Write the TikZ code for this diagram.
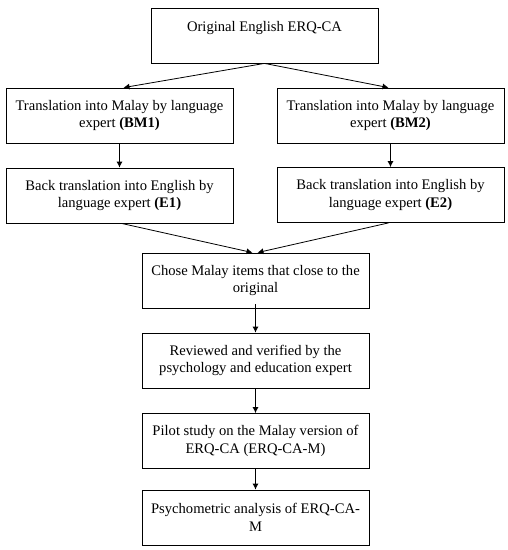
\documentclass[tikz,border=0pt]{standalone}
\usepackage{fontspec}
\setmainfont{Liberation Serif}
\usetikzlibrary{calc}
\usetikzlibrary{arrows.meta}

\begin{document}
\begin{tikzpicture}[x=1pt,y=-1pt,>={Latex[length=6pt,width=6pt]},
  stage/.style={draw,line width=0.8pt,minimum width=227pt,minimum height=55pt,
    inner sep=0pt,align=center,font=\fontsize{14.6}{17.3}\selectfont}]
  \useasboundingbox (0,0) rectangle (508,550);

  \node [stage] (orig) at (264.5,35.5) {Original English ERQ-CA\\~};
  \node [stage] (bm1) at (119.5,115.5) {Translation into Malay by language\\expert \textbf{(BM1)}};
  \node [stage] (bm2) at (390.5,115.5) {Translation into Malay by language\\expert \textbf{(BM2)}};
  \node [stage] (e1) at (119.5,195.5) {Back translation into English by\\language expert \textbf{(E1)}};
  \node [stage] (e2) at (390.5,195) {Back translation into English by\\language expert \textbf{(E2)}};
  \node [stage] (chose) at (255.5,280.5) {Chose Malay items that close to the\\original};
  \node [stage] (review) at (255.5,360.5) {Reviewed and verified by the\\psychology and education expert};
  \node [stage] (pilot) at (255.5,441) {Pilot study on the Malay version of\\ERQ-CA (ERQ-CA-M)};
  \node [stage] (psy) at (255.5,517.5) {Psychometric analysis of ERQ-CA-\\M};

  \draw [->,line width=0.8pt] (orig.south) -- ([xshift=4pt]bm1.north);
  \draw [->,line width=0.8pt] (orig.south) -- ([xshift=-2pt]bm2.north);
  \draw [->,line width=0.8pt] (bm1) -- (e1);
  \draw [->,line width=0.8pt] (bm2) -- (e2);
  \draw [->,line width=0.8pt] ([xshift=2pt]e1.south) -- ([xshift=-3pt]chose.north);
  \draw [->,line width=0.8pt] ([xshift=-2pt]e2.south) -- ([xshift=2pt]chose.north);
  \draw [->,line width=0.8pt] ([yshift=4pt]chose.south) -- (review);
  \draw [->,line width=0.8pt] (review) -- (pilot);
  \draw [->,line width=0.8pt] (pilot) -- (psy);
\end{tikzpicture}
\end{document}
